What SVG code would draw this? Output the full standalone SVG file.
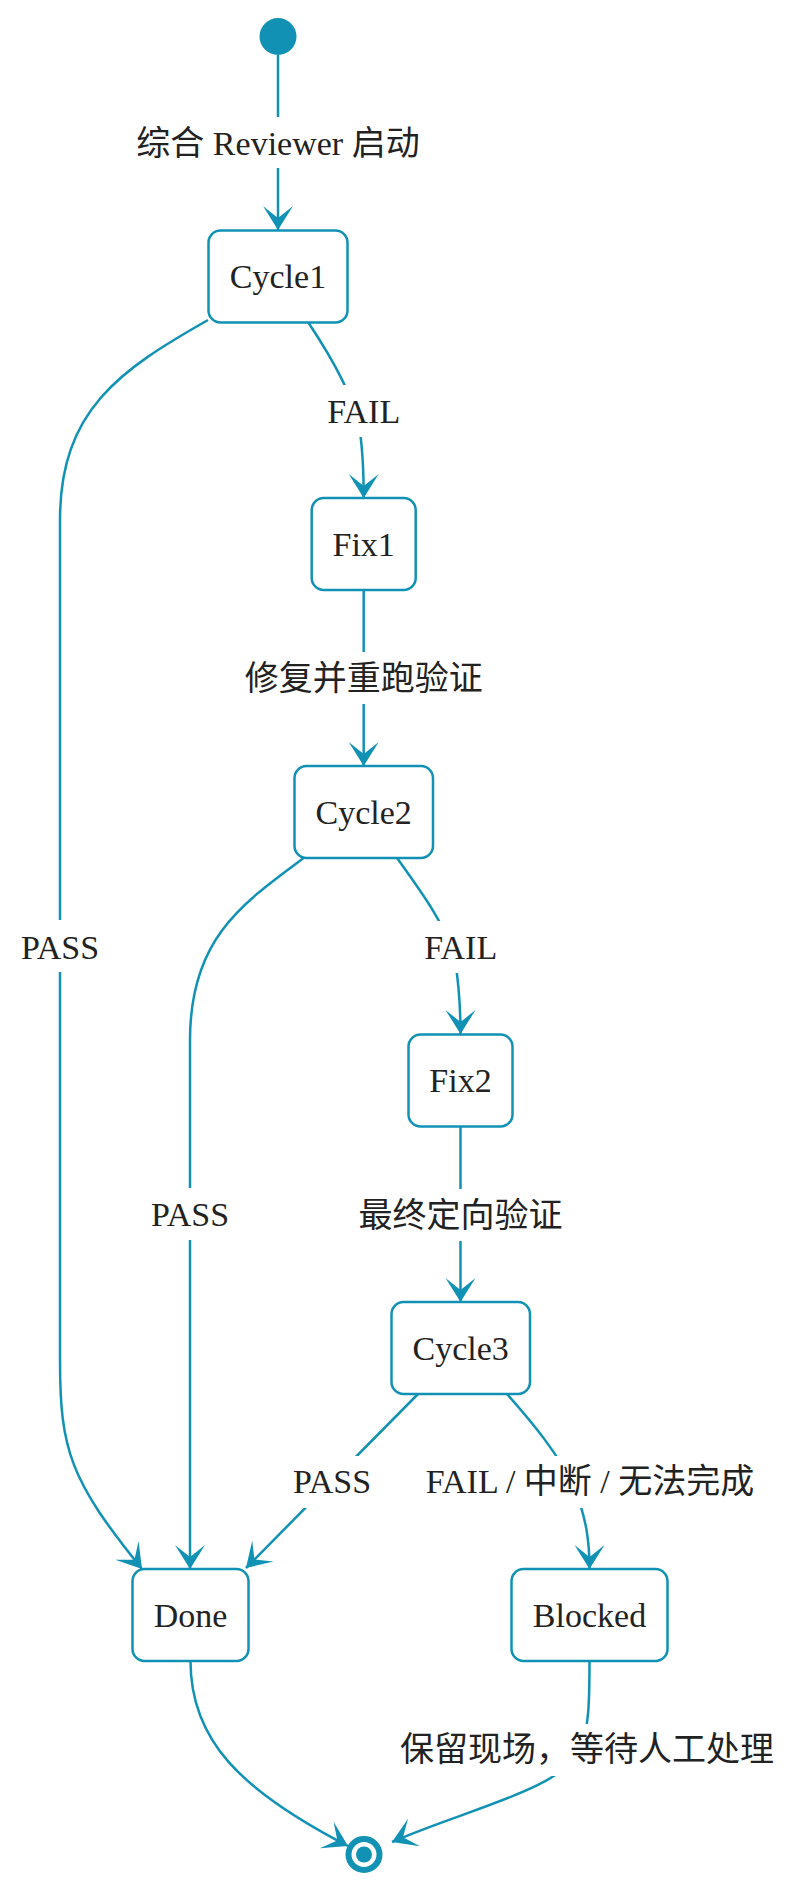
<svg xmlns="http://www.w3.org/2000/svg" width="800" height="1893" viewBox="0 0 800 1893">
<style>
  .node rect { fill: #ffffff; stroke: #1192b5; stroke-width: 2.5; }
  .edge { fill: none; stroke: #1192b5; stroke-width: 2.5; }
  text { font-family: 'Liberation Serif', 'Noto Sans CJK SC', serif; font-size: 34px; fill: #222222; text-anchor: middle; }
  .lblbg { fill: #ffffff; stroke: none; }
  .term { fill: #1192b5; }
</style>
<defs>
  <marker id="arr" viewBox="-26 -16 28 32" refX="0" refY="0" markerWidth="28" markerHeight="32" markerUnits="userSpaceOnUse" orient="auto">
    <path d="M0,0 L-24,-15 L-12,0 L-24,15 Z" fill="#1192b5"/>
  </marker>
</defs>
<rect x="0" y="0" width="800" height="1893" fill="#ffffff"/>

<g id="connectors">
  <path class="edge" d="M278,55 L278,230" marker-end="url(#arr)"/>
  <path class="edge" d="M308,322 C330,355 352,392 359,425 C363,450 363.7,470 363.7,498" marker-end="url(#arr)"/>
  <path class="edge" d="M208,320 C120,370 60,410 60,520 L60,1360 C60,1450 70,1480 142,1569" marker-end="url(#arr)"/>
  <path class="edge" d="M363.7,590 L363.7,766" marker-end="url(#arr)"/>
  <path class="edge" d="M397,858 C420,890 448,928 455,960 C459,985 460.5,1005 460.5,1034" marker-end="url(#arr)"/>
  <path class="edge" d="M303.6,858 C240,905 190,940 190,1040 L190,1569" marker-end="url(#arr)"/>
  <path class="edge" d="M460.5,1126 L460.5,1302" marker-end="url(#arr)"/>
  <path class="edge" d="M418,1394 L246,1568" marker-end="url(#arr)"/>
  <path class="edge" d="M507,1394 C530,1420 560,1455 575,1490 C586,1518 589.5,1540 589.5,1569" marker-end="url(#arr)"/>
  <path class="edge" d="M190.5,1661 C190.5,1740 240,1790 348,1846" marker-end="url(#arr)"/>
  <path class="edge" d="M589.5,1661 C589.5,1700 589,1730 580,1750 C560,1790 470,1808 392,1842" marker-end="url(#arr)"/>

  <g class="label">
    <rect class="lblbg" x="132" y="117" width="292" height="51"/>
    <text x="278" y="154.5">综合 Reviewer 启动</text>
  </g>
  <g class="label">
    <rect class="lblbg" x="323" y="385" width="82" height="52"/>
    <text x="363.7" y="423">FAIL</text>
  </g>
  <g class="label">
    <rect class="lblbg" x="16" y="920" width="88" height="52"/>
    <text x="60" y="958.5">PASS</text>
  </g>
  <g class="label">
    <rect class="lblbg" x="241" y="652" width="245" height="52"/>
    <text x="363.7" y="689.5">修复并重跑验证</text>
  </g>
  <g class="label">
    <rect class="lblbg" x="420" y="921" width="82" height="52"/>
    <text x="460.7" y="958.5">FAIL</text>
  </g>
  <g class="label">
    <rect class="lblbg" x="146" y="1188" width="88" height="52"/>
    <text x="190" y="1225.5">PASS</text>
  </g>
  <g class="label">
    <rect class="lblbg" x="356" y="1189" width="210" height="52"/>
    <text x="460.5" y="1226.5">最终定向验证</text>
  </g>
  <g class="label">
    <rect class="lblbg" x="288" y="1456" width="88" height="52"/>
    <text x="332" y="1493">PASS</text>
  </g>
  <g class="label">
    <rect class="lblbg" x="421" y="1456" width="338" height="52"/>
    <text x="590" y="1493">FAIL / 中断 / 无法完成</text>
  </g>
  <g class="label">
    <rect class="lblbg" x="396" y="1724" width="382" height="52"/>
    <text x="587" y="1761">保留现场，等待人工处理</text>
  </g>
</g>

<g id="start">
  <circle class="term" cx="278" cy="36.5" r="18.5"/>
</g>

<g id="Cycle1" class="node">
  <rect x="208.5" y="230.5" width="139" height="92" rx="12" ry="12"/>
  <text x="278" y="288">Cycle1</text>
</g>
<g id="Fix1" class="node">
  <rect x="311.7" y="498" width="104" height="92" rx="12" ry="12"/>
  <text x="363.7" y="555.5">Fix1</text>
</g>
<g id="Cycle2" class="node">
  <rect x="294.5" y="766" width="138.5" height="92" rx="12" ry="12"/>
  <text x="363.7" y="823.5">Cycle2</text>
</g>
<g id="Fix2" class="node">
  <rect x="408.5" y="1034.5" width="104" height="92" rx="12" ry="12"/>
  <text x="460.5" y="1092">Fix2</text>
</g>
<g id="Cycle3" class="node">
  <rect x="391.5" y="1302" width="138.5" height="92" rx="12" ry="12"/>
  <text x="460.7" y="1359.5">Cycle3</text>
</g>
<g id="Done" class="node">
  <rect x="132.5" y="1569" width="116" height="92" rx="12" ry="12"/>
  <text x="190.5" y="1626.5">Done</text>
</g>
<g id="Blocked" class="node">
  <rect x="511.5" y="1569" width="156" height="92" rx="12" ry="12"/>
  <text x="589.5" y="1626.5">Blocked</text>
</g>

<g id="end">
  <circle cx="364" cy="1854.5" r="15.5" fill="#ffffff" stroke="#1192b5" stroke-width="6"/>
  <circle class="term" cx="364" cy="1854.5" r="8"/>
</g>
</svg>
